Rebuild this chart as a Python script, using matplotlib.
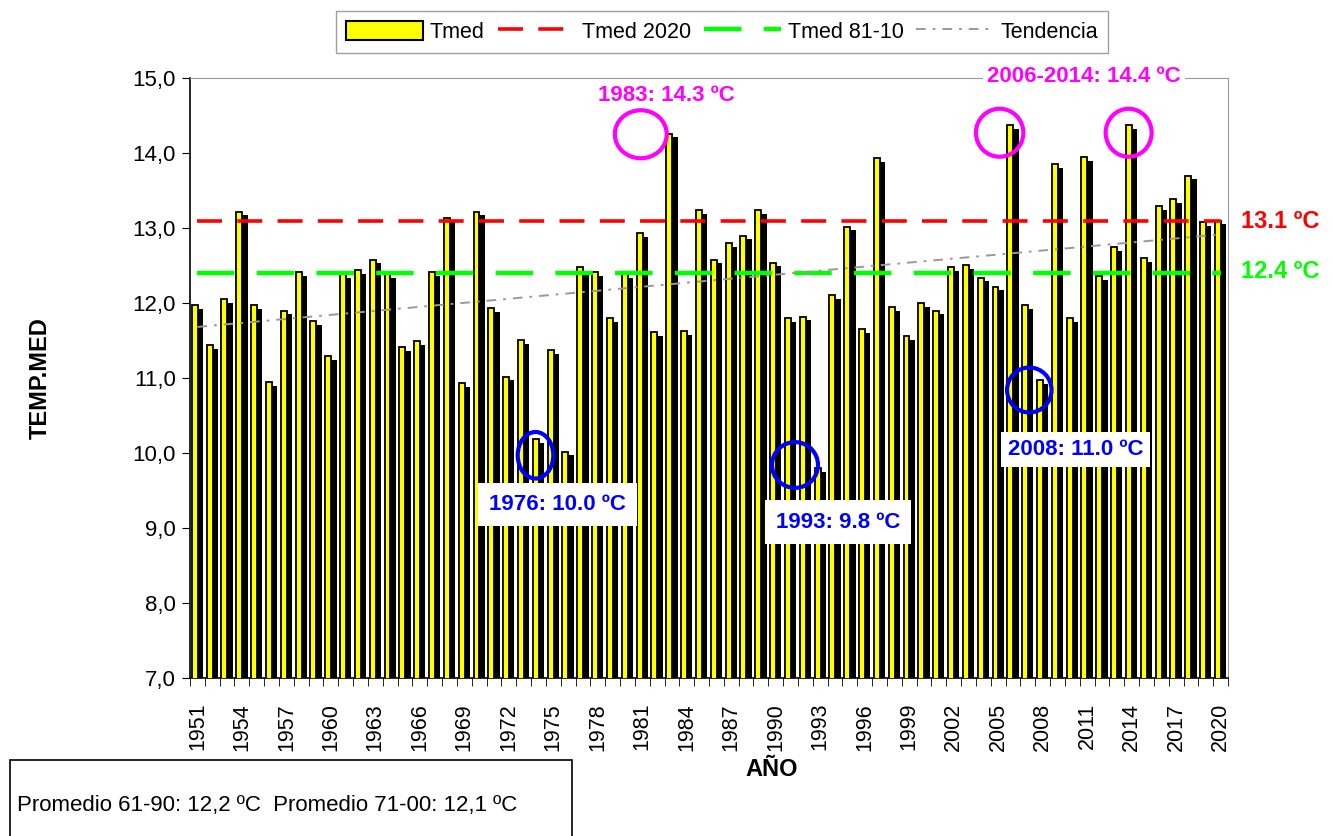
import numpy as np
import matplotlib.pyplot as plt
from matplotlib.patches import Ellipse, Rectangle

# --- Datos ---
years = np.arange(1951, 2021)
tmed = [11.97, 11.44, 12.05, 13.22, 11.97, 10.95, 11.90, 12.41, 11.76, 11.29,
        12.39, 12.44, 12.58, 12.39, 11.41, 11.49, 12.41, 13.14, 10.93, 13.22,
        11.93, 11.02, 11.51, 10.19, 11.37, 10.02, 12.48, 12.41, 11.80, 12.38,
        12.93, 11.61, 14.26, 11.63, 13.24, 12.58, 12.80, 12.90, 13.24, 12.54,
        11.80, 11.82, 9.80, 12.11, 13.02, 11.65, 13.93, 11.95, 11.56, 12.00,
        11.90, 12.48, 12.51, 12.34, 12.22, 14.37, 11.97, 10.97, 13.85, 11.80,
        13.95, 12.36, 12.75, 14.37, 12.60, 13.29, 13.39, 13.70, 13.08, 13.10]
tmed_2020 = 13.1
tmed_81_10 = 12.4
tick_years = years[::3]

plt.rcParams['font.family'] = ['Liberation Sans', 'DejaVu Sans']
plt.rcParams['lines.scale_dashes'] = False

fig = plt.figure(figsize=(13.33, 8.36), dpi=100)
ax = fig.add_axes([190 / 1333, 1 - 678 / 836, 1038 / 1333, 600 / 836])

vals = np.array(tmed)
# sombra negra + barra amarilla
ax.bar(years + 0.14, vals - 0.05, width=0.48, color='black', zorder=2)
ax.bar(years - 0.18, vals, width=0.4, color='#ffff00', edgecolor='black',
       linewidth=1.3, zorder=3)
h_bar = ax.bar([0], [0], width=0, color='#ffff00', edgecolor='black',
               linewidth=1.5, label='Tmed')

h_red, = ax.plot(years, np.full(len(years), tmed_2020), color='#ff0000', lw=2.6,
                 dashes=(18, 11), zorder=4, label='Tmed 2020')
h_green, = ax.plot(years, np.full(len(years), tmed_81_10), color='#00ff00', lw=3.2,
                   dashes=(27, 16), zorder=4, label='Tmed 81-10')

coef = np.polyfit(years, vals, 1)
h_trend, = ax.plot(years, np.polyval(coef, years), color='#999999', lw=1.4,
                   dashes=(7, 5, 2, 5), zorder=4, label='Tendencia')

ax.set_xlim(1950.5, 2020.5)
ax.set_ylim(7, 15)
ax.set_yticks(np.arange(7, 15.1, 1))
ax.set_yticklabels([f'{v:.1f}'.replace('.', ',') for v in np.arange(7, 15.1, 1)],
                   fontsize=16)
ax.set_xticks(tick_years)
ax.set_xticklabels([str(y) for y in tick_years], rotation=90, fontsize=15.5)
ax.set_xticks(np.arange(1950.5, 2021, 1), minor=True)
ax.tick_params(axis='x', which='major', length=0, pad=18)
ax.tick_params(axis='x', which='minor', length=6, direction='out')
ax.tick_params(axis='y', length=6, direction='out', pad=4)

for s in ['top', 'right']:
    ax.spines[s].set_color('#999999')
for s in ['left', 'bottom']:
    ax.spines[s].set_color('black')
    ax.spines[s].set_linewidth(1.2)

ax.set_ylabel('TEMP.MED', fontsize=17, fontweight='bold', labelpad=58)
fig.text(772 / 1333, 1 - 770 / 836, 'AÑO', fontsize=17, fontweight='bold',
         ha='center', va='center')

# circulos
mag = '#ff00ff'
blue = '#0000ff'
for cx, cy, w, h in [(1980.9, 14.25, 3.5, 0.64), (2005.1, 14.27, 3.2, 0.64),
                     (2013.8, 14.27, 3.1, 0.64)]:
    ax.add_patch(Ellipse((cx, cy), w, h, fill=False, edgecolor=mag, lw=3, zorder=6))
for cx, cy, w, h in [(1973.8, 9.97, 2.4, 0.62), (1991.3, 9.84, 3.1, 0.61),
                     (2007.1, 10.84, 3.0, 0.6)]:
    ax.add_patch(Ellipse((cx, cy), w, h, fill=False, edgecolor=blue, lw=3, zorder=6))

ax.text(1982.6, 14.77, '1983: 14.3 ºC', color=mag, fontsize=16, fontweight='bold',
        ha='center', va='center', zorder=7)
ax.text(2010.8, 15.02, '2006-2014: 14.4 ºC', color=mag, fontsize=16,
        fontweight='bold', ha='center', va='center', zorder=7, clip_on=False,
        bbox=dict(facecolor='white', edgecolor='none', pad=3))
box = dict(facecolor='white', edgecolor='none', pad=8)
ax.text(1975.3, 9.31, '1976: 10.0 ºC', color=blue, fontsize=16, fontweight='bold',
        ha='center', va='center', zorder=7, bbox=box)
ax.text(1994.2, 9.08, '1993: 9.8 ºC', color=blue, fontsize=16, fontweight='bold',
        ha='center', va='center', zorder=7, bbox=box)
ax.text(2010.2, 10.05, '2008: 11.0 ºC', color=blue, fontsize=16, fontweight='bold',
        ha='center', va='center', zorder=7,
        bbox=dict(facecolor='white', edgecolor='none', pad=5))

fig.text(1280 / 1333, 1 - 222 / 836, '13.1 ºC', color='#ff0000', fontsize=17,
         fontweight='bold', ha='center', va='center')
fig.text(1280 / 1333, 1 - 271 / 836, '12.4 ºC', color='#00ff00', fontsize=17,
         fontweight='bold', ha='center', va='center')

leg = fig.legend(handles=[h_bar, h_red, h_green, h_trend],
                 labels=['Tmed', 'Tmed 2020', 'Tmed 81-10', 'Tendencia'],
                 loc='center', bbox_to_anchor=(722 / 1333, 1 - 32 / 836), ncol=4,
                 fontsize=15.5, frameon=True, fancybox=False, edgecolor='#888888',
                 handlelength=3.6, handleheight=1.0, handletextpad=0.3,
                 columnspacing=0.6, borderpad=0.45)
leg.get_frame().set_linewidth(1.0)

# cuadro de promedios
fig.patches.append(Rectangle((10 / 1333, -0.01), 562 / 1333, 76 / 836 + 0.01,
                             transform=fig.transFigure, fill=False,
                             edgecolor='black', lw=1.2))
fig.text(17 / 1333, 1 - 805 / 836, 'Promedio 61-90: 12,2 ºC  Promedio 71-00: 12,1 ºC',
         fontsize=16, ha='left', va='center')

fig.savefig('out.png', dpi=100)
